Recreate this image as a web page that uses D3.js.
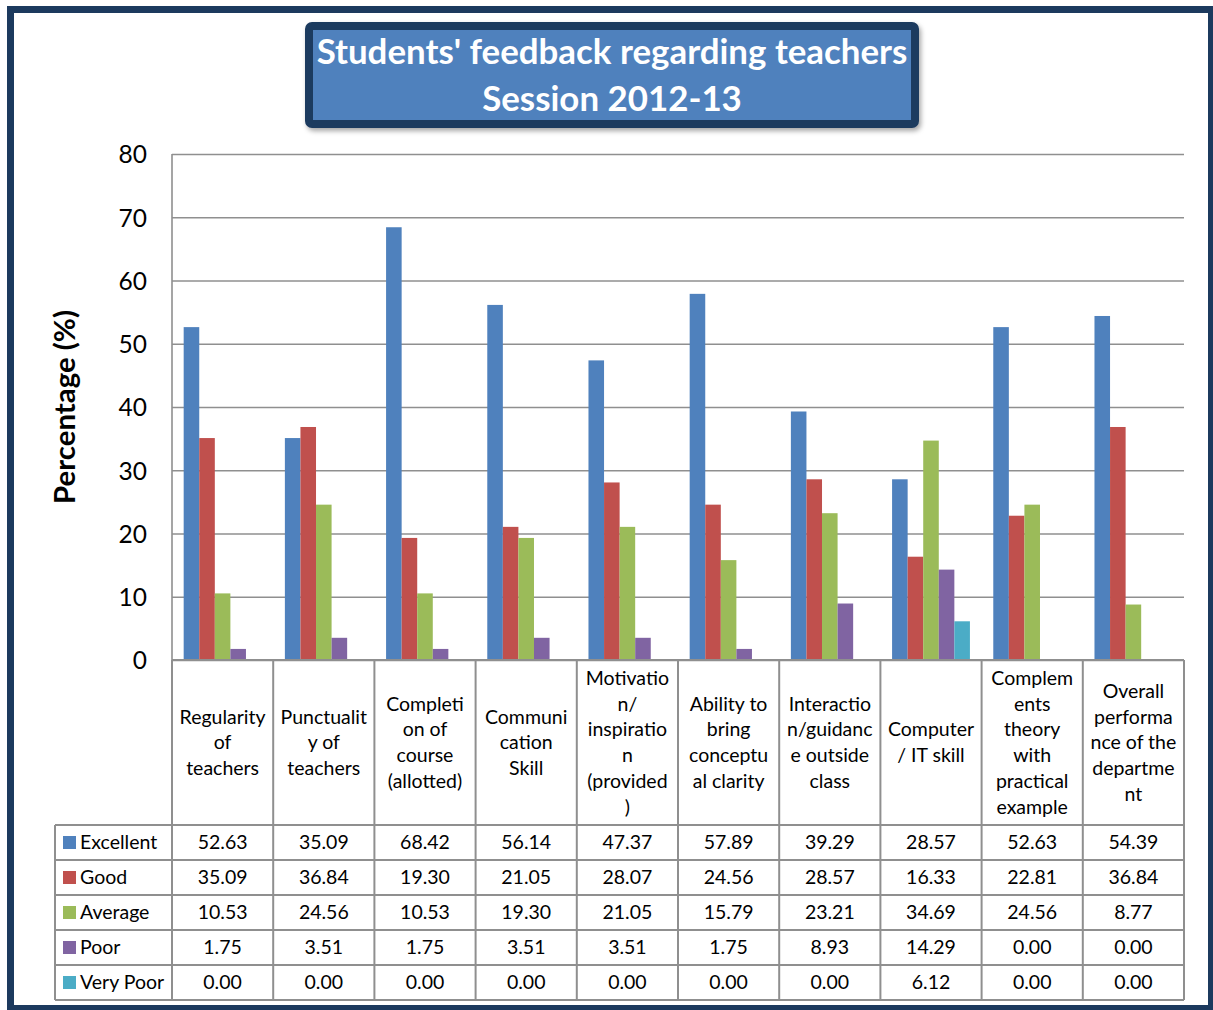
<!DOCTYPE html>
<html>
<head>
<meta charset="utf-8">
<script src="https://d3js.org/d3.v7.min.js"></script>
<style>
  body { margin: 0; background: #fff; }
  svg { display: block; font-family: Lato, "Open Sans", sans-serif; }
</style>
</head>
<body>
<div id="chart"></div>
<script>
// data
var categories = [
  "Regularity\nof\nteachers",
  "Punctualit\ny of\nteachers",
  "Completi\non of\ncourse\n(allotted)",
  "Communi\ncation\nSkill",
  "Motivatio\nn/\ninspiratio\nn\n(provided\n)",
  "Ability to\nbring\nconceptu\nal clarity",
  "Interactio\nn/guidanc\ne outside\nclass",
  "Computer\n/ IT skill",
  "Complem\nents\ntheory\nwith\npractical\nexample",
  "Overall\nperforma\nnce of the\ndepartme\nnt"
];
var seriesNames = ["Excellent", "Good", "Average", "Poor", "Very Poor"];
var excellent = [52.63, 35.09, 68.42, 56.14, 47.37, 57.89, 39.29, 28.57, 52.63, 54.39];
var good      = [35.09, 36.84, 19.30, 21.05, 28.07, 24.56, 28.57, 16.33, 22.81, 36.84];
var average   = [10.53, 24.56, 10.53, 19.30, 21.05, 15.79, 23.21, 34.69, 24.56, 8.77];
var poor      = [1.75, 3.51, 1.75, 3.51, 3.51, 1.75, 8.93, 14.29, 0.00, 0.00];
var veryPoor  = [0.00, 0.00, 0.00, 0.00, 0.00, 0.00, 0.00, 6.12, 0.00, 0.00];
var yTicks = [0, 10, 20, 30, 40, 50, 60, 70, 80];
var titleLines = ["Students' feedback regarding teachers", "Session 2012-13"];
var yLabel = "Percentage (%)";

var seriesValues = [excellent, good, average, poor, veryPoor];
var colors = ["#4f81bd", "#c0504d", "#9bbb59", "#8064a2", "#4bacc6"];

var W = 1213, H = 1010;
var plot = { left: 172, right: 1184, top: 154, bottom: 660 };
var headerBottom = 825, rowH = 35, legendLeft = 55;
var gridColor = "#8f8f8f";
var cellFont = 19.5;

var svg = d3.select("#chart").append("svg")
  .attr("width", W).attr("height", H);

// drop shadow for title box
var defs = svg.append("defs");
var f = defs.append("filter").attr("id", "shadow")
  .attr("x", "-10%").attr("y", "-20%").attr("width", "120%").attr("height", "150%");
f.append("feDropShadow").attr("dx", 2).attr("dy", 3).attr("stdDeviation", 2.5)
  .attr("flood-color", "#000").attr("flood-opacity", 0.35);

// outer frame
svg.append("rect")
  .attr("x", 10.5).attr("y", 9.5).attr("width", 1201).attr("height", 999)
  .attr("fill", "#fff").attr("stroke", "#1c3a5e").attr("stroke-width", 7);

function fitText(sel, target) {
  var w = sel.node().getComputedTextLength();
  var fs = +sel.attr("font-size");
  sel.attr("font-size", fs * target / w);
}

// scales
var x0 = d3.scaleBand().domain(d3.range(categories.length)).range([plot.left, plot.right]);
var x1 = d3.scaleBand().domain(d3.range(seriesNames.length))
  .range([0, x0.bandwidth()]).paddingInner(0).paddingOuter(0.75);
var y = d3.scaleLinear().domain([0, 80]).range([plot.bottom, plot.top]);

// gridlines
svg.append("g")
  .attr("transform", "translate(" + plot.left + ",0)")
  .call(d3.axisLeft(y).tickValues(yTicks).tickSize(-(plot.right - plot.left)).tickFormat(""))
  .call(function (g) {
    g.select(".domain").remove();
    g.selectAll("line").attr("stroke", gridColor).attr("stroke-width", 1.6);
  });
// plot left edge
svg.append("line")
  .attr("x1", plot.left).attr("x2", plot.left)
  .attr("y1", plot.top).attr("y2", plot.bottom)
  .attr("stroke", gridColor).attr("stroke-width", 1.6);

// y tick labels
svg.append("g")
  .attr("transform", "translate(147,0)")
  .call(d3.axisLeft(y).tickValues(yTicks).tickSize(0).tickPadding(0))
  .call(function (g) {
    g.select(".domain").remove();
    g.selectAll("text").attr("font-size", 24.5).attr("fill", "#000")
      .attr("font-family", "Lato, sans-serif").attr("dy", "0.36em");
  });

// y label
var yl = svg.append("text")
  .attr("transform", "translate(75,407) rotate(-90)")
  .attr("text-anchor", "middle")
  .attr("font-size", 25).attr("font-weight", "bold").attr("fill", "#000")
  .text(yLabel);
fitText(yl, 194);

// bars
var groups = svg.append("g").selectAll("g")
  .data(categories)
  .join("g")
  .attr("transform", function (d, i) { return "translate(" + x0(i) + ",0)"; });
groups.selectAll("rect")
  .data(function (d, i) { return seriesValues.map(function (s, j) { return { s: j, v: s[i] }; }); })
  .join("rect")
  .attr("x", function (d) { return x1(d.s); })
  .attr("y", function (d) { return y(d.v); })
  .attr("width", x1.bandwidth())
  .attr("height", function (d) { return y(0) - y(d.v); })
  .attr("fill", function (d) { return colors[d.s]; });

// data table
var table = svg.append("g");
var tableBottom = headerBottom + rowH * seriesNames.length;

// category header text
categories.forEach(function (c, i) {
  var lines = c.split("\n");
  var cx = x0(i) + x0.bandwidth() / 2;
  var cy = (plot.bottom + headerBottom) / 2;
  var lh = 25.8;
  var t = table.append("text").attr("text-anchor", "middle")
    .attr("font-size", cellFont).attr("fill", "#000");
  lines.forEach(function (l, k) {
    t.append("tspan").attr("x", cx)
      .attr("y", cy + (k - (lines.length - 1) / 2) * lh)
      .attr("dy", "0.35em").text(l);
  });
});

// values
seriesNames.forEach(function (s, j) {
  var cy = headerBottom + rowH * j + rowH / 2;
  seriesValues[j].forEach(function (v, i) {
    table.append("text")
      .attr("x", x0(i) + x0.bandwidth() / 2).attr("y", cy).attr("dy", "0.35em")
      .attr("text-anchor", "middle").attr("font-size", cellFont).attr("fill", "#000")
      .text(v.toFixed(2));
  });
  table.append("rect")
    .attr("x", 63).attr("y", cy - 6.5).attr("width", 13).attr("height", 13)
    .attr("fill", colors[j]);
  table.append("text")
    .attr("x", 80).attr("y", cy).attr("dy", "0.35em")
    .attr("font-size", cellFont).attr("fill", "#000").text(s);
});

// table lines
var tl = table.append("g").attr("stroke", gridColor).attr("stroke-width", 2);
d3.range(categories.length + 1).forEach(function (i) {
  var xx = i < categories.length ? x0(i) : plot.right;
  tl.append("line").attr("x1", xx).attr("x2", xx)
    .attr("y1", plot.bottom).attr("y2", tableBottom);
});
tl.append("line").attr("x1", legendLeft).attr("x2", legendLeft)
  .attr("y1", headerBottom).attr("y2", tableBottom);
tl.append("line").attr("x1", plot.left).attr("x2", plot.right)
  .attr("y1", plot.bottom).attr("y2", plot.bottom);
d3.range(seriesNames.length + 1).forEach(function (j) {
  var yy = headerBottom + rowH * j;
  tl.append("line").attr("x1", legendLeft).attr("x2", plot.right)
    .attr("y1", yy).attr("y2", yy);
});

// title box
svg.append("rect")
  .attr("x", 309).attr("y", 26).attr("width", 606).attr("height", 98)
  .attr("rx", 3)
  .attr("fill", "#4f81bd").attr("stroke", "#1c3a5e").attr("stroke-width", 8)
  .attr("filter", "url(#shadow)");

var t1 = svg.append("text").attr("x", 612).attr("y", 64)
  .attr("text-anchor", "middle").attr("font-size", 34).attr("font-weight", "bold")
  .attr("fill", "#fff").text(titleLines[0]);
fitText(t1, 591);
var t2 = svg.append("text").attr("x", 612).attr("y", 110.5)
  .attr("text-anchor", "middle").attr("font-size", t1.attr("font-size")).attr("font-weight", "bold")
  .attr("fill", "#fff").text(titleLines[1]);
</script>
</body>
</html>
